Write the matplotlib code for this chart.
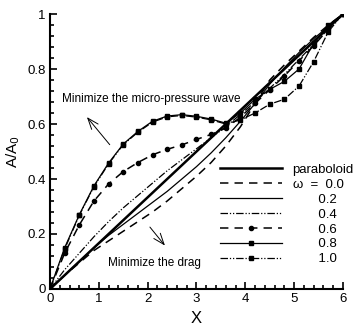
import matplotlib
matplotlib.use("Agg")
import matplotlib.pyplot as plt
from matplotlib.ticker import MultipleLocator

plt.rcParams["font.family"] = ["Liberation Sans", "DejaVu Sans"]

# data
x = [0, 0.3, 0.6, 0.9, 1.2, 1.5, 1.8, 2.1, 2.4, 2.7, 3.0,
     3.3, 3.6, 3.9, 4.2, 4.5, 4.8, 5.1, 5.4, 5.7, 6.0]
paraboloid = [0, 0.05, 0.1, 0.15, 0.2, 0.25, 0.3, 0.35, 0.4, 0.45, 0.5,
              0.55, 0.6, 0.65, 0.7, 0.75, 0.8, 0.85, 0.9, 0.95, 1.0]
w00 = [0, 0.05, 0.095, 0.14, 0.175, 0.21, 0.245, 0.28, 0.32, 0.365, 0.41,
       0.46, 0.52, 0.59, 0.675, 0.76, 0.815, 0.865, 0.915, 0.96, 1.0]
w02 = [0, 0.05, 0.1, 0.15, 0.195, 0.235, 0.275, 0.315, 0.355, 0.4, 0.445,
       0.495, 0.55, 0.61, 0.675, 0.745, 0.805, 0.86, 0.91, 0.955, 1.0]
w04 = [0, 0.07, 0.13, 0.19, 0.245, 0.295, 0.34, 0.385, 0.43, 0.47, 0.51,
       0.55, 0.59, 0.635, 0.68, 0.73, 0.78, 0.835, 0.89, 0.945, 1.0]
w06 = [0, 0.13, 0.233, 0.32, 0.382, 0.427, 0.46, 0.488, 0.508, 0.524, 0.544,
       0.562, 0.585, 0.625, 0.675, 0.725, 0.775, 0.83, 0.885, 0.945, 1.0]
w08 = [0, 0.15, 0.27, 0.375, 0.458, 0.527, 0.573, 0.61, 0.629, 0.634, 0.628,
       0.618, 0.603, 0.64, 0.69, 0.726, 0.755, 0.8, 0.893, 0.96, 1.0]
w10 = [0, 0.145, 0.268, 0.372, 0.455, 0.525, 0.57, 0.607, 0.626, 0.631, 0.625,
       0.615, 0.6, 0.615, 0.64, 0.672, 0.69, 0.738, 0.827, 0.936, 1.0]
x_ticks = [0, 1, 2, 3, 4, 5, 6]
y_ticks = [0, 0.2, 0.4, 0.6, 0.8, 1.0]
y_tick_labels = ["0", "0.2", "0.4", "0.6", "0.8", "1"]

fig = plt.figure(figsize=(3.56, 3.29), dpi=100)
ax = fig.add_axes([0.1404, 0.1216, 0.8231, 0.8358])

dash_dot_dot = (0, (6, 1.5, 1, 1.5, 1, 1.5))
ax.plot(x, paraboloid, color="black", lw=1.8, label="paraboloid")
ax.plot(x, w00, color="black", lw=1.1, ls=(0, (5.5, 4)), label="ω  =  0.0")
ax.plot(x, w02, color="black", lw=0.9, label="       0.2")
ax.plot(x, w04, color="black", lw=0.9, ls=dash_dot_dot, label="       0.4")
ax.plot(x, w06, color="black", lw=1.1, ls=(0, (5.5, 4)), marker="o", ms=3,
        label="       0.6")
ax.plot(x, w08, color="black", lw=0.9, marker="s", ms=3, label="       0.8")
ax.plot(x, w10, color="black", lw=0.9, ls=dash_dot_dot, marker="s", ms=3,
        label="       1.0")

ax.set_xlim(0, 6)
ax.set_ylim(0, 1)
ax.set_xticks(x_ticks, [str(t) for t in x_ticks])
ax.set_yticks(y_ticks, y_tick_labels)
ax.xaxis.set_minor_locator(MultipleLocator(0.2))
ax.yaxis.set_minor_locator(MultipleLocator(0.04))
ax.tick_params(which="both", direction="in", width=1.2, labelsize=9.5, pad=3)
ax.tick_params(which="major", length=5)
ax.tick_params(which="minor", length=3)
for side in ["top", "right"]:
    ax.spines[side].set_visible(False)
for side in ["left", "bottom"]:
    ax.spines[side].set_linewidth(1.5)

ax.set_xlabel("X", fontsize=12)
ax.set_ylabel("A/A$_0$", fontsize=11, labelpad=4)

ax.annotate("", xy=(0.72, 0.633), xytext=(1.26, 0.517),
            arrowprops=dict(arrowstyle="->,head_length=0.8,head_width=0.3", lw=0.7))
ax.text(0.25, 0.69, "Minimize the micro-pressure wave", fontsize=8.5,
        va="center", ha="left")
ax.annotate("", xy=(2.39, 0.15), xytext=(2.01, 0.233),
            arrowprops=dict(arrowstyle="->,head_length=0.8,head_width=0.3", lw=0.7))
ax.text(1.19, 0.093, "Minimize the drag", fontsize=8.5, va="center", ha="left")

ax.legend(loc="upper left", bbox_to_anchor=(0.58, 0.455), frameon=False,
          fontsize=9.5, handlelength=4.7, handletextpad=0.8, borderpad=0,
          borderaxespad=0, labelspacing=0.2)

fig.savefig("out.png", dpi=100)
